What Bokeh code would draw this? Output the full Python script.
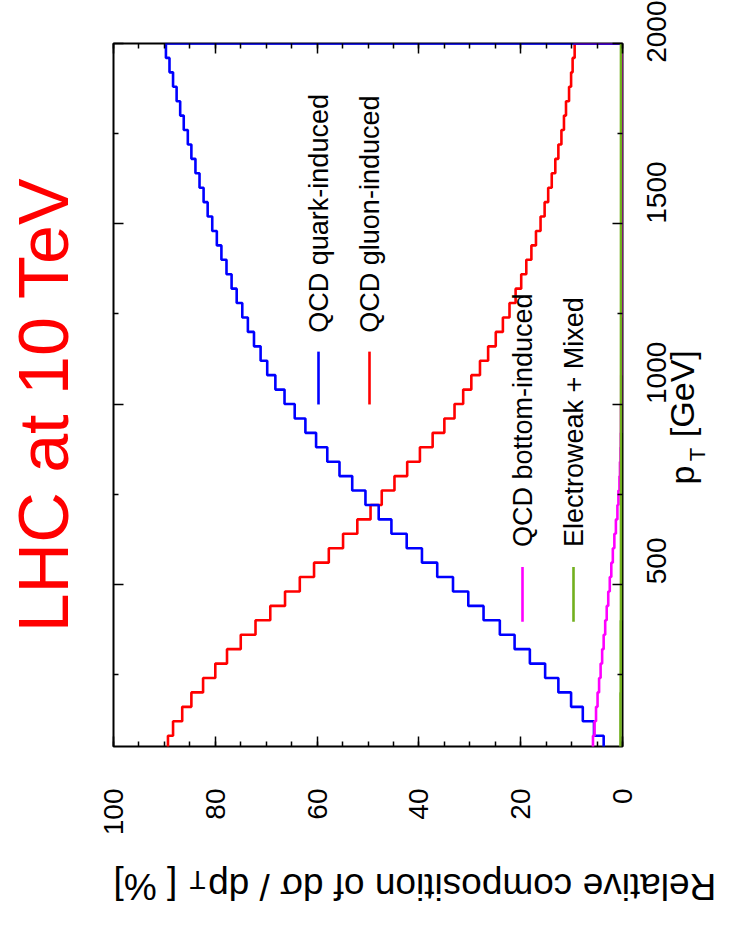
import json
import math
from bokeh.plotting import figure
from bokeh.models import Range1d, LinearAxis, FixedTicker, CustomJSTickFormatter, Label
from bokeh.embed import file_html
from bokeh.resources import INLINE

# ---------------- data ----------------
# lower edges of the 40 GeV pT bins
bin_lo = [40, 80, 120, 160, 200, 240, 280, 320, 360, 400,
          440, 480, 520, 560, 600, 640, 680, 720, 760, 800,
          840, 880, 920, 960, 1000, 1040, 1080, 1120, 1160, 1200,
          1240, 1280, 1320, 1360, 1400, 1440, 1480, 1520, 1560, 1600,
          1640, 1680, 1720, 1760, 1800, 1840, 1880, 1920, 1960]
bin_width = 40

quark = [3.7, 5.6, 7.8, 10.1, 12.6, 15.2, 18.2, 21.2, 24.1, 27.3,
         30.3, 33.3, 36.4, 39.4, 42.4, 45.4, 47.9, 50.5, 53.1, 55.6,
         58.0, 60.2, 62.3, 64.4, 66.4, 68.2, 69.8, 71.1, 72.4, 73.6,
         74.7, 75.8, 76.8, 77.8, 78.8, 79.7, 80.6, 81.5, 82.3, 83.1,
         83.9, 84.7, 85.4, 86.2, 86.9, 87.6, 88.3, 89.0, 89.7]

gluon = [89.3, 88.3, 86.5, 84.7, 82.4, 80.0, 77.7, 75.0, 72.1, 69.2,
         66.3, 63.4, 60.6, 57.7, 54.9, 52.1, 49.5, 47.3, 44.8, 42.3,
         39.8, 37.3, 35.0, 33.0, 31.3, 29.7, 28.0, 26.4, 24.9, 23.5,
         22.2, 21.0, 19.9, 18.9, 17.9, 17.0, 16.1, 15.3, 14.6, 13.9,
         13.2, 12.6, 12.0, 11.5, 11.1, 10.5, 10.1, 9.8, 9.4]

bottom = [5.8, 5.5, 5.2, 4.9, 4.6, 4.3, 4.0, 3.7, 3.4, 3.1,
          2.8, 2.5, 2.2, 1.9, 1.6, 1.3, 1.0, 0.8, 0.6, 0.5,
          0.4, 0.35, 0.3, 0.3, 0.25, 0.25, 0.2, 0.2, 0.2, 0.2,
          0.15, 0.15, 0.15, 0.15, 0.15, 0.1, 0.1, 0.1, 0.1, 0.1,
          0.1, 0.1, 0.1, 0.1, 0.1, 0.1, 0.1, 0.1, 0.1]

electroweak = [0.4, 0.4, 0.4, 0.4, 0.35, 0.35, 0.35, 0.35, 0.35, 0.3,
               0.3, 0.3, 0.3, 0.3, 0.3, 0.3, 0.3, 0.3, 0.3, 0.3,
               0.3, 0.3, 0.3, 0.3, 0.3, 0.3, 0.3, 0.3, 0.3, 0.3,
               0.3, 0.3, 0.3, 0.3, 0.3, 0.3, 0.3, 0.3, 0.3, 0.3,
               0.3, 0.3, 0.3, 0.3, 0.3, 0.3, 0.3, 0.3, 0.3]

pct_ticks = [0, 20, 40, 60, 80, 100]
pct_minor = [0, 5, 10, 15, 20, 25, 30, 35, 40, 45, 50, 55, 60, 65, 70, 75, 80, 85, 90, 95, 100]
pt_ticks = [500, 1000, 1500, 2000]
pt_minor = [250, 750, 1250, 1750]

names = ["QCD quark-induced", "QCD gluon-induced", "QCD bottom-induced", "Electroweak + Mixed"]
colors = ["#0000ff", "#ff0000", "#ff00ff", "#72b01e"]

NB = "\u00a0"
title_text = "LHC at 10 TeV" + NB
pt_main = "p" + NB * 3 + "[GeV]"
pct_main = "Relative composition of d\u03c3 / dp" + NB * 3 + "[" + NB + "%]"
sub_text = "T"

# ---------------- layout ----------------
W, H = 736, 930
L, R, T, B = 113, 622, 43, 748
FONT = "Liberation Sans"

p = figure(width=W, height=H, x_range=Range1d(100, 0), y_range=Range1d(50, 2000),
           output_backend="svg", toolbar_location=None,
           x_axis_location="below", y_axis_location="right",
           min_border_left=L, min_border_right=W - R,
           min_border_top=T, min_border_bottom=H - B)
p.grid.visible = False
p.outline_line_color = "black"
p.outline_line_width = 2
p.background_fill_color = "white"
p.border_fill_color = "white"


def style_axis(ax, show_labels):
    ax.axis_line_color = None
    ax.major_tick_in = 10
    ax.major_tick_out = 0
    ax.minor_tick_in = 5
    ax.minor_tick_out = 0
    ax.major_tick_line_color = "black"
    ax.minor_tick_line_color = "black"
    ax.major_tick_line_width = 1.5
    ax.minor_tick_line_width = 1.5
    ax.axis_label_text_font = FONT
    ax.axis_label_text_font_style = "normal"
    if show_labels:
        ax.major_label_orientation = math.pi / 2
        ax.major_label_text_font = FONT
        ax.major_label_text_font_size = "28px"
        ax.major_label_text_color = "black"
    else:
        ax.formatter = CustomJSTickFormatter(code="return ''")
        ax.major_label_standoff = 0


def text_axis(where, tick, text, fs, angle, standoff):
    ax = LinearAxis(ticker=FixedTicker(ticks=[tick], minor_ticks=[]))
    ax.axis_line_color = None
    ax.major_tick_line_color = None
    ax.minor_tick_line_color = None
    ax.major_tick_in = 0
    ax.major_tick_out = 0
    ax.minor_tick_in = 0
    ax.minor_tick_out = 0
    ax.formatter = CustomJSTickFormatter(code="return " + json.dumps(text) + ";")
    ax.major_label_orientation = angle
    ax.major_label_text_font = FONT
    ax.major_label_text_font_size = fs
    ax.major_label_text_color = "black"
    ax.major_label_standoff = standoff
    p.add_layout(ax, where)
    return ax


# bottom: % ticks and numbers
xb = p.xaxis[0]
xb.ticker = FixedTicker(ticks=pct_ticks, minor_ticks=pct_minor)
style_axis(xb, True)
xb.major_label_standoff = 42

# right: pT ticks and numbers
yr = p.yaxis[0]
yr.ticker = FixedTicker(ticks=pt_ticks, minor_ticks=pt_minor)
style_axis(yr, True)
yr.major_label_standoff = 34

# top mirror ticks
xt = LinearAxis(ticker=FixedTicker(ticks=pct_ticks, minor_ticks=pct_minor))
style_axis(xt, False)
p.add_layout(xt, "above")

# left mirror ticks + red title
yl = LinearAxis(ticker=FixedTicker(ticks=pt_ticks, minor_ticks=pt_minor))
style_axis(yl, False)
yl.axis_label = title_text
yl.axis_label_text_font_size = "70px"
yl.axis_label_text_color = "#ff0000"
yl.axis_label_standoff = 31
p.add_layout(yl, "left")

# axis titles written as single tick labels (rotated), subscripts on their own axes
text_axis("right", 777, pt_main, "34px", math.pi / 2, 4)
text_axis("right", 841, sub_text, "22px", math.pi / 2, -26)
text_axis("below", 100, pct_main, "37px", math.pi, 48)
text_axis("below", 85.07, sub_text, "26px", math.pi, -51)


def step_path(vals):
    xs = [0.0]
    ys = [bin_lo[0]]
    for lo, v in zip(bin_lo, vals):
        xs += [v, v]
        ys += [lo, lo + bin_width]
    xs.append(0.0)
    ys.append(bin_lo[-1] + bin_width)
    return xs, ys


for vals, col in [(gluon, colors[1]), (quark, colors[0]), (bottom, colors[2]), (electroweak, colors[3])]:
    xs, ys = step_path(vals)
    p.line(xs, ys, line_color=col, line_width=2.6)


# helpers: picture pixel -> data coordinates
def dx(img_x):
    return 100 - (img_x - L) / (R - L) * 100


def dy(img_y):
    return 2000 - (img_y - T) / (B - T) * 1950


leg = [(names[0], colors[0], 318, 333, 352, 405),
       (names[1], colors[1], 369, 333, 352, 405),
       (names[2], colors[2], 522, 548, 568, 623),
       (names[3], colors[3], 573, 548, 568, 623)]
for text, col, ix, iy, s0, s1 in leg:
    p.add_layout(Label(x=dx(ix), y=dy(iy), text=text, angle=math.pi / 2,
                       text_font=FONT, text_font_size="27px", text_color="black",
                       text_align="left", text_baseline="middle"))
    p.segment(x0=[dx(ix)], y0=[dy(s0)], x1=[dx(ix)], y1=[dy(s1)], line_color=col, line_width=2.6)

open("out.html", "w").write(file_html(p, INLINE))
